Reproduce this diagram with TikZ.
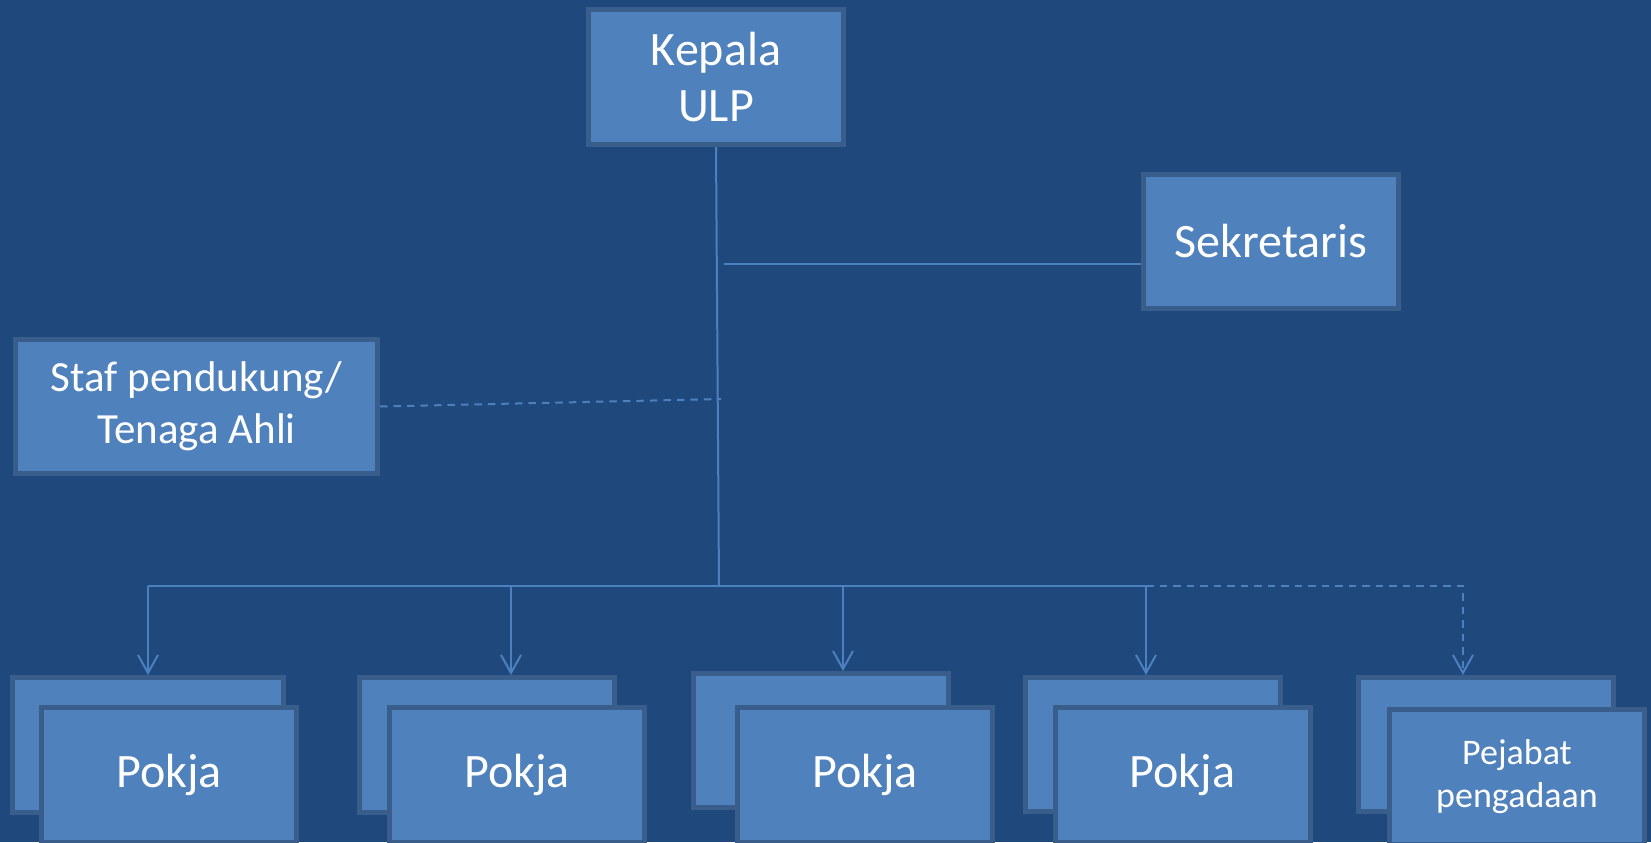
\documentclass[tikz,border=0pt]{standalone}
\usepackage{fontspec}
\setmainfont{Carlito}
\usetikzlibrary{arrows.meta, positioning, calc}
\definecolor{cbg}{RGB}{31,73,125}
\definecolor{cfill}{RGB}{79,129,189}
\definecolor{cedge}{RGB}{57,94,140}
\definecolor{cline}{RGB}{76,128,190}

\begin{document}
\begin{tikzpicture}[
  x=0.5pt, y=-0.5pt,
  box/.style     = {rectangle, draw=cedge, line width=2.5pt, fill=cfill,
                    inner sep=0pt, minimum width=127.5pt, minimum height=67.5pt,
                    align=center, text=white, font=\fontsize{24}{28}\selectfont},
  link/.style    = {draw=cline, line width=1pt},
  dashlink/.style= {link, dash pattern=on 3.75pt off 3pt},
  arr/.style     = {-{Straight Barb[length=9pt, width=10pt]}},
]
\useasboundingbox (0,0) rectangle (1651,842);
\fill[cbg] (0,0) rectangle (1651,842);
% Top: head and side units
\node[box]                       (kepala) at (716,77)     {Kepala\\ULP};
\node[box, minimum height=67pt]  (sekr)   at (1271,241.5) {Sekretaris};
\node[box, minimum width=181pt, minimum height=67pt,
      font=\fontsize{21.5}{26}\selectfont] (staf) at (196.5,406.5) {Staf pendukung/\\Tenaga Ahli};
% Bottom row: stacked boxes (back)
\node[box, minimum width=135.5pt] (b1) at (148,745)      {};
\node[box]                        (b2) at (487,745)      {};
\node[box, minimum height=67pt]   (b3) at (821,740.5)    {};
\node[box, minimum height=67pt]   (b4) at (1152.5,744.5) {};
\node[box, minimum height=67pt]   (b5) at (1485.5,744.5) {};
% Bottom row: stacked boxes (front)
\node[box] (f1) at (169,775)    {Pokja};
\node[box] (f2) at (517,775)    {Pokja};
\node[box] (f3) at (865,775)    {Pokja};
\node[box] (f4) at (1182.5,775) {Pokja};
\node[box, font=\fontsize{18}{21.5}\selectfont] (f5) at (1517,776.5) {Pejabat\\pengadaan};
% Junction points
\coordinate (hub) at (719,586);
\coordinate (sj)  at (724,264);
\coordinate (sf)  at (721,399);
\coordinate (t1)  at (148,586);
\coordinate (t2)  at (511,586);
\coordinate (t3)  at (843,586);
\coordinate (t4)  at (1146,586);
\coordinate (t5)  at (1463,586);
% Connectors
\draw[link] (kepala.south) -- (hub);
\draw[link] (sj) -- (sj -| sekr.west);
\draw[dashlink] (staf.east) -- (sf);
\draw[link] (t1) -- (t4);
\draw[link, arr] (t1) -- (t1 |- b1.north);
\draw[link, arr] (t2) -- (t2 |- b2.north);
\draw[link, arr] (t3) -- (t3 |- b3.north);
\draw[link, arr] (t4) -- (t4 |- b4.north);
\draw[dashlink, arr] (t4) -- (t5) -- (t5 |- b5.north);
\end{tikzpicture}
\end{document}
